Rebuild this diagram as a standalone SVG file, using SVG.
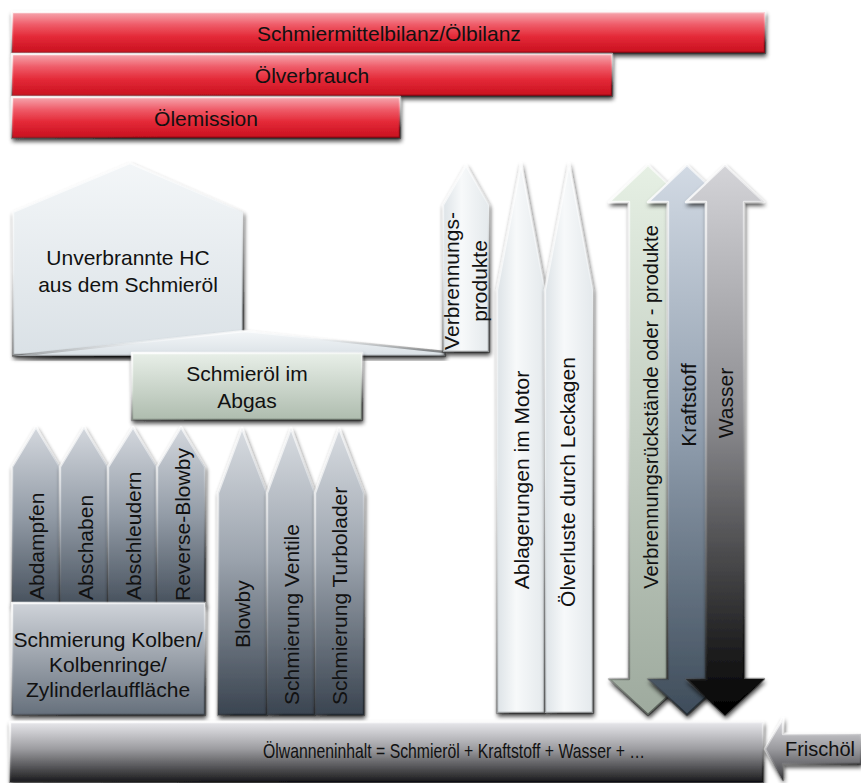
<svg xmlns="http://www.w3.org/2000/svg" width="861" height="783" viewBox="0 0 861 783">
  <defs>
    <style>
      text { font-family: "Liberation Sans", Arial, sans-serif; font-size: 21px; fill: #111; }
      .c { text-anchor: middle; dominant-baseline: central; }
      .vs { text-anchor: start; dominant-baseline: central; }
      .vm { text-anchor: middle; dominant-baseline: central; }
      .shape { filter: url(#shadow); }
      .edge { fill: none; stroke: url(#edgeGrad); stroke-width: 2.4; stroke-linejoin: round; }
    </style>
    <filter id="shadow" x="-20%" y="-20%" width="140%" height="140%">
      <feDropShadow dx="1" dy="3" stdDeviation="2" flood-color="#000" flood-opacity="0.45"/>
    </filter>
    <linearGradient id="edgeGrad" x1="0" y1="0" x2="0.35" y2="1">
      <stop offset="0" stop-color="#fff" stop-opacity="0.9"/>
      <stop offset="0.5" stop-color="#fff" stop-opacity="0.3"/>
      <stop offset="1" stop-color="#000" stop-opacity="0.4"/>
    </linearGradient>
    <linearGradient id="gRed" x1="0" y1="0" x2="0" y2="1">
      <stop offset="0" stop-color="#f6a8b0"/>
      <stop offset="0.3" stop-color="#ef5d6a"/>
      <stop offset="0.6" stop-color="#e42a38"/>
      <stop offset="1" stop-color="#c80f1e"/>
    </linearGradient>
    <linearGradient id="gHouse" x1="0" y1="0" x2="0" y2="1">
      <stop offset="0" stop-color="#f3f6f8"/>
      <stop offset="1" stop-color="#dae1e6"/>
    </linearGradient>
    <linearGradient id="gAbgas" x1="0" y1="0" x2="0" y2="1">
      <stop offset="0" stop-color="#e8efe8"/>
      <stop offset="1" stop-color="#aebcae"/>
    </linearGradient>
    <linearGradient id="gLight" x1="0" y1="0" x2="1" y2="0">
      <stop offset="0" stop-color="#dde3e7"/>
      <stop offset="0.4" stop-color="#f7f9fa"/>
      <stop offset="1" stop-color="#e4e9ec"/>
    </linearGradient>
    <linearGradient id="gSlate" x1="0" y1="0" x2="0" y2="1">
      <stop offset="0" stop-color="#d4d8de"/>
      <stop offset="0.5" stop-color="#929ba6"/>
      <stop offset="1" stop-color="#46505c"/>
    </linearGradient>
    <linearGradient id="gSlateBox" x1="0" y1="0" x2="0" y2="1">
      <stop offset="0" stop-color="#cfd3d9"/>
      <stop offset="1" stop-color="#66707c"/>
    </linearGradient>
    <linearGradient id="gSlateTall" x1="0" y1="0" x2="0" y2="1">
      <stop offset="0" stop-color="#d8dce1"/>
      <stop offset="0.45" stop-color="#9ca4ae"/>
      <stop offset="1" stop-color="#3a4450"/>
    </linearGradient>
    <linearGradient id="gArrowGreen" x1="0" y1="0" x2="0" y2="1">
      <stop offset="0" stop-color="#e6f0e4"/>
      <stop offset="1" stop-color="#9eaa9e"/>
    </linearGradient>
    <linearGradient id="gArrowBlue" x1="0" y1="0" x2="0" y2="1">
      <stop offset="0" stop-color="#d2dae4"/>
      <stop offset="0.5" stop-color="#8e9cac"/>
      <stop offset="1" stop-color="#3e4c5a"/>
    </linearGradient>
    <linearGradient id="gArrowBlack" x1="0" y1="0" x2="0" y2="1">
      <stop offset="0" stop-color="#d4d4d8"/>
      <stop offset="0.45" stop-color="#8e8e92"/>
      <stop offset="1" stop-color="#000"/>
    </linearGradient>
    <linearGradient id="gBase" x1="0" y1="0" x2="0" y2="1">
      <stop offset="0" stop-color="#e8e8ec"/>
      <stop offset="0.45" stop-color="#9c9ca0"/>
      <stop offset="1" stop-color="#1a1a1c"/>
    </linearGradient>
    <linearGradient id="gFrisch" x1="0" y1="0" x2="0" y2="1">
      <stop offset="0" stop-color="#e0e0e4"/>
      <stop offset="0.5" stop-color="#9a9a9e"/>
      <stop offset="1" stop-color="#3a3a3e"/>
    </linearGradient>
  </defs>

  <rect width="861" height="783" fill="#fff"/>

  <!-- balance bars -->
  <g id="schmiermittelbilanz">
    <rect id="b1" class="shape" x="12" y="12" width="753" height="41" fill="url(#gRed)"/>
    <use href="#b1" class="edge"/>
    <text class="c" x="389" y="33">Schmiermittelbilanz/Ölbilanz</text>
  </g>
  <g id="oelverbrauch">
    <rect id="b2" class="shape" x="12" y="54" width="600" height="42" fill="url(#gRed)"/>
    <use href="#b2" class="edge"/>
    <text class="c" x="312" y="75">Ölverbrauch</text>
  </g>
  <g id="oelemission">
    <rect id="b3" class="shape" x="12" y="97" width="388" height="41" fill="url(#gRed)"/>
    <use href="#b3" class="edge"/>
    <text class="c" x="206" y="118">Ölemission</text>
  </g>

  <!-- exhaust side -->
  <g id="unverbrannte-hc">
    <path id="p-house" class="shape" d="M13,212 L130,163 L243,212 L243,355 L13,355 Z" fill="url(#gHouse)"/>
    <use href="#p-house" class="edge"/>
    <text class="c" x="128" y="257">Unverbrannte HC</text>
    <text class="c" x="128" y="284">aus dem Schmieröl</text>
  </g>
  <g id="abgas-dach">
    <path id="p-roof" class="shape" d="M13,356 L245,331 L445,352 L445,356 Z" fill="url(#gHouse)"/>
    <use href="#p-roof" class="edge"/>
  </g>
  <g id="verbrennungsprodukte">
    <path id="p-vp" class="shape" d="M443,205 L466,165 L489,205 L489,352 L443,352 Z" fill="url(#gLight)"/>
    <use href="#p-vp" class="edge"/>
    <text class="vm" transform="translate(451,281) rotate(-90)">Verbrennungs-</text>
    <text class="vm" transform="translate(479,281) rotate(-90)">produkte</text>
  </g>
  <g id="schmieroel-im-abgas">
    <rect id="p-abgas" class="shape" x="132" y="353" width="230" height="67" fill="url(#gAbgas)"/>
    <use href="#p-abgas" class="edge"/>
    <text class="c" x="247" y="373">Schmieröl im</text>
    <text class="c" x="247" y="400">Abgas</text>
  </g>

  <!-- piston / ring paths -->
  <g id="abdampfen">
    <path id="p-a1" class="shape" d="M12,467 L36,427 L60,467 L60,606 L12,606 Z" fill="url(#gSlate)"/>
    <use href="#p-a1" class="edge"/>
    <text class="vs" transform="translate(36,600) rotate(-90)">Abdampfen</text>
  </g>
  <g id="abschaben">
    <path id="p-a2" class="shape" d="M60,467 L84,427 L108,467 L108,606 L60,606 Z" fill="url(#gSlate)"/>
    <use href="#p-a2" class="edge"/>
    <text class="vs" transform="translate(85,600) rotate(-90)">Abschaben</text>
  </g>
  <g id="abschleudern">
    <path id="p-a3" class="shape" d="M108,467 L133,427 L157,467 L157,606 L108,606 Z" fill="url(#gSlate)"/>
    <use href="#p-a3" class="edge"/>
    <text class="vs" transform="translate(133,600) rotate(-90)">Abschleudern</text>
  </g>
  <g id="reverse-blowby">
    <path id="p-a4" class="shape" d="M157,467 L181,427 L205,467 L205,606 L157,606 Z" fill="url(#gSlate)"/>
    <use href="#p-a4" class="edge"/>
    <text class="vs" transform="translate(182,601) rotate(-90)">Reverse-Blowby</text>
  </g>
  <g id="schmierung-kolben">
    <rect id="p-kolben" class="shape" x="12" y="603" width="193" height="112" fill="url(#gSlateBox)"/>
    <use href="#p-kolben" class="edge"/>
    <text class="c" x="108" y="639">Schmierung Kolben/</text>
    <text class="c" x="108" y="664">Kolbenringe/</text>
    <text class="c" x="108" y="689">Zylinderlauffläche</text>
  </g>

  <!-- other sources -->
  <g id="blowby">
    <path id="p-b1" class="shape" d="M218,493 L242,428 L267,493 L267,715 L218,715 Z" fill="url(#gSlateTall)"/>
    <use href="#p-b1" class="edge"/>
    <text class="vs" transform="translate(242,648) rotate(-90)">Blowby</text>
  </g>
  <g id="schmierung-ventile">
    <path id="p-b2" class="shape" d="M267,493 L291,428 L315,493 L315,715 L267,715 Z" fill="url(#gSlateTall)"/>
    <use href="#p-b2" class="edge"/>
    <text class="vs" transform="translate(291,705) rotate(-90)">Schmierung Ventile</text>
  </g>
  <g id="schmierung-turbolader">
    <path id="p-b3" class="shape" d="M315,493 L339,428 L364,493 L364,715 L315,715 Z" fill="url(#gSlateTall)"/>
    <use href="#p-b3" class="edge"/>
    <text class="vs" transform="translate(339,705) rotate(-90)">Schmierung Turbolader</text>
  </g>

  <!-- deposits and leakage -->
  <g id="ablagerungen">
    <path id="p-abl" class="shape" d="M497,290 L521,163 L545,290 L545,713 L497,713 Z" fill="url(#gLight)"/>
    <use href="#p-abl" class="edge"/>
    <text class="vm" transform="translate(521,480) rotate(-90)">Ablagerungen im Motor</text>
  </g>
  <g id="leckagen">
    <path id="p-lck" class="shape" d="M545,290 L569,163 L593,290 L593,713 L545,713 Z" fill="url(#gLight)"/>
    <use href="#p-lck" class="edge"/>
    <text class="vm" transform="translate(567,482) rotate(-90)">Ölverluste durch Leckagen</text>
  </g>

  <!-- two-way exchange with the sump -->
  <g id="verbrennungsrueckstaende">
    <path id="p-d1" class="shape" d="M648,165 L687,202 L667,202 L667,679 L687,679 L648,715 L609,679 L629,679 L629,202 L609,202 Z" fill="url(#gArrowGreen)"/>
    <use href="#p-d1" class="edge"/>
    <text class="vm" style="font-size:20px" transform="translate(651,407) rotate(-90)">Verbrennungsrückstände oder - produkte</text>
  </g>
  <g id="kraftstoff">
    <path id="p-d2" class="shape" d="M687,165 L726,202 L706,202 L706,679 L726,679 L687,715 L648,679 L668,679 L668,202 L648,202 Z" fill="url(#gArrowBlue)"/>
    <use href="#p-d2" class="edge"/>
    <text class="vm" transform="translate(688,405) rotate(-90)">Kraftstoff</text>
  </g>
  <g id="wasser">
    <path id="p-d3" class="shape" d="M725,165 L764,202 L744,202 L744,679 L764,679 L725,715 L686,679 L706,679 L706,202 L686,202 Z" fill="url(#gArrowBlack)"/>
    <use href="#p-d3" class="edge"/>
    <text class="vm" transform="translate(725,403) rotate(-90)">Wasser</text>
  </g>

  <!-- sump and fresh oil -->
  <g id="oelwanneninhalt">
    <rect id="p-sump" class="shape" x="10" y="722" width="753" height="60" fill="url(#gBase)"/>
    <use href="#p-sump" class="edge"/>
    <text class="c" x="454" y="750" textLength="382" lengthAdjust="spacingAndGlyphs">Ölwanneninhalt = Schmieröl +  Kraftstoff + Wasser + …</text>
  </g>
  <g id="frischoel">
    <path id="p-fresh" class="shape" d="M765,749 L783,718 L783,734 L861,734 L861,764 L783,764 L783,780 Z" fill="url(#gFrisch)"/>
    <use href="#p-fresh" class="edge"/>
    <text class="c" style="font-size:20px" x="820" y="749">Frischöl</text>
  </g>
</svg>
